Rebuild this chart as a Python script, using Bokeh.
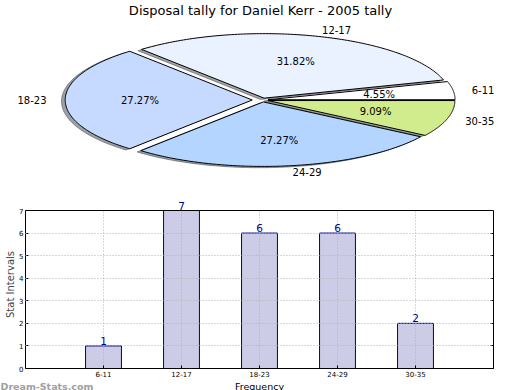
import numpy as np
from bokeh.plotting import figure
from bokeh.layouts import column, row
from bokeh.models import (Range1d, FixedTicker, LabelSet, ColumnDataSource,
                          LinearAxis, Span)
from bokeh.embed import file_html
from bokeh.resources import INLINE
from bokeh.core.properties import value

# ---------------- data ----------------
title = "Disposal tally for Daniel Kerr - 2005 tally"
categories = ["6-11", "12-17", "18-23", "24-29", "30-35"]
counts = [1, 7, 6, 6, 2]
y_ticks = [0, 1, 2, 3, 4, 5, 6, 7]
x_label = "Frequency"
y_label = "Stat Intervals"
watermark = "Dream-Stats.com"

# ---------------- styles ----------------
slice_colors = ["#ffffff", "#eaf2ff", "#c6d9ff", "#b3d5ff", "#d0ec8c"]
explode = [0.03, 0.03, 0.055, 0.03, 0.03]
FONT = "DejaVu Sans"
W = 520
PIE_H = 200
BAR_H = 179
STRIP_H = 11

# pie geometry in canvas pixels
cx, cy, rx, ry = 262.0, 99.5, 187.0, 64.5

pie = figure(width=W, height=PIE_H, x_range=Range1d(0, W),
             y_range=Range1d(PIE_H, 0), toolbar_location=None,
             output_backend="svg", x_axis_location=None, y_axis_location=None,
             min_border=0)
pie.outline_line_color = None
pie.xgrid.visible = False
pie.ygrid.visible = False

vals = np.array(counts, dtype=float)
fr = vals / vals.sum()
edges = np.concatenate([[0.0], np.cumsum(fr)]) * 2 * np.pi


def shade(hexc):
    h = hexc.lstrip("#")
    r, g, b = (int(h[i:i + 2], 16) for i in (0, 2, 4))
    return "#%02x%02x%02x" % (int(0.3 * r), int(0.3 * g), int(0.3 * b))


wx, wy, sxs, sys_, shc = [], [], [], [], []
lab_x, lab_y, lab_t, lab_al = [], [], [], []
pct_x, pct_y, pct_t = [], [], []
for i, c in enumerate(categories):
    t1, t2 = edges[i], edges[i + 1]
    tm = 0.5 * (t1 + t2)
    e = explode[i]
    ox = cx + e * rx * np.cos(tm)
    oy = cy - e * ry * np.sin(tm)
    t = np.linspace(t1, t2, 120)
    px = np.concatenate([[ox], ox + rx * np.cos(t)])
    py = np.concatenate([[oy], oy - ry * np.sin(t)])
    wx.append(px)
    wy.append(py)
    sxs.append(px - 0.02 * rx)
    sys_.append(py + 0.02 * ry)
    shc.append(shade(slice_colors[i]))
    lab_x.append(ox + 1.1 * rx * np.cos(tm))
    lab_y.append(oy - 1.1 * ry * np.sin(tm))
    lab_t.append(c)
    lab_al.append("left" if np.cos(tm) > 0 else "right")
    pct_x.append(ox + 0.6 * rx * np.cos(tm))
    pct_y.append(oy - 0.6 * ry * np.sin(tm))
    pct_t.append("%.2f%%" % (100 * fr[i]))

pie.patches(xs=sxs, ys=sys_, fill_color=shc, fill_alpha=0.5,
            line_color=shc, line_alpha=0.5, line_width=1)
pie.patches(xs=wx, ys=wy, fill_color=slice_colors, line_color="#000000",
            line_width=1)

pie.text(x=[260], y=[2], text=[title], text_align="center", text_baseline="top",
         text_font=value(FONT), text_font_size="13px", text_color="#000000")
lsrc = ColumnDataSource(dict(x=lab_x, y=lab_y, t=lab_t, a=lab_al))
pie.text(x="x", y="y", text="t", text_align="a", source=lsrc,
         text_baseline="middle", text_font=value(FONT), text_font_size="10px",
         text_color="#000000")
pie.text(x=pct_x, y=pct_y, text=pct_t, text_align="center",
         text_baseline="middle", text_font=value(FONT), text_font_size="10px",
         text_color="#000000")

# ---------------- bar chart ----------------
xs = list(range(1, len(categories) + 1))
FRAME_W = 468
PLOT_H = 158          # pixel height of the 0..7 value span
TOP_PAD = 10          # room above the plot box for the top value label
BL = 25
y_lo, y_hi = y_ticks[0], y_ticks[-1]
xr = Range1d(0, len(categories) + 1)
yr = Range1d(y_lo, y_hi + TOP_PAD * (y_hi - y_lo) / PLOT_H)
bar = figure(width=W, height=BAR_H, x_range=xr, y_range=yr,
             toolbar_location=None, output_backend="svg",
             min_border_left=BL, min_border_right=W - BL - FRAME_W,
             min_border_top=0, min_border_bottom=BAR_H - TOP_PAD - PLOT_H)
bar.outline_line_color = None
bar.xgrid.visible = False

bar.vbar(x=xs, top=counts, bottom=0, width=0.46, fill_color="#cccce6",
         line_color="#000080", line_width=1)

# vertical dotted grid lines over the bars, only inside the plot box
bar.segment(x0=xs, y0=[y_lo] * len(xs), x1=xs, y1=[y_hi] * len(xs),
            line_color="#b0b0b0", line_dash="1 2", line_width=1)

bar.ygrid.ticker = FixedTicker(ticks=y_ticks[1:-1])
bar.ygrid.grid_line_color = "#b0b0b0"
bar.ygrid.grid_line_dash = "1 2"
bar.ygrid.level = "overlay"

right_ax = LinearAxis()
bar.add_layout(right_ax, "right")
for ax in (bar.xaxis[0], bar.yaxis[0], right_ax):
    ax.major_tick_in = 3
    ax.major_tick_out = 0
    ax.minor_tick_line_color = None
    ax.axis_line_color = "#000000"
    ax.major_tick_line_color = "#000000"
    ax.major_label_text_font = FONT
    ax.major_label_text_font_size = "7px"
    ax.major_label_text_color = "#000000"
    ax.major_label_standoff = 2
for ax in (bar.yaxis[0], right_ax):
    ax.ticker = FixedTicker(ticks=y_ticks)
    ax.bounds = (y_lo, y_hi)
right_ax.major_label_text_color = None
bar.yaxis[0].axis_label = y_label
bar.yaxis[0].axis_label_text_font = FONT
bar.yaxis[0].axis_label_text_font_size = "10px"
bar.yaxis[0].axis_label_text_font_style = "normal"
bar.yaxis[0].axis_label_standoff = 0
bar.xaxis.ticker = FixedTicker(ticks=xs)
bar.xaxis.major_label_overrides = {x: c for x, c in zip(xs, categories)}

bar.add_layout(Span(location=y_hi, dimension="width", line_color="#000000",
                    line_width=1))

vsrc = ColumnDataSource(dict(x=xs, y=counts, t=[str(v) for v in counts]))
bar.add_layout(LabelSet(x="x", y="y", text="t", source=vsrc, text_align="center",
                        text_baseline="alphabetic", y_offset=1,
                        text_font=value(FONT), text_font_size="10.5px",
                        text_color="#000080"))

# ---------------- bottom strip: axis title and watermark ----------------
strip = figure(width=W, height=STRIP_H, x_range=Range1d(0, W),
               y_range=Range1d(STRIP_H, 0), toolbar_location=None,
               output_backend="svg", x_axis_location=None, y_axis_location=None,
               min_border=0)
strip.outline_line_color = None
strip.xgrid.visible = False
strip.ygrid.visible = False
strip.text(x=[BL + FRAME_W / 2], y=[0], text=[x_label], text_align="center",
           text_baseline="top", text_font=value(FONT), text_font_size="9.5px",
           text_color="#000000")
strip.text(x=[0], y=[0], text=[watermark], text_align="left",
           text_baseline="top", text_font=value(FONT), text_font_style="bold",
           text_font_size="9.5px", text_color="#a0a0a0")

layout = column(row(pie), bar, row(strip), spacing=0)
open("out.html", "w").write(file_html(layout, INLINE))
